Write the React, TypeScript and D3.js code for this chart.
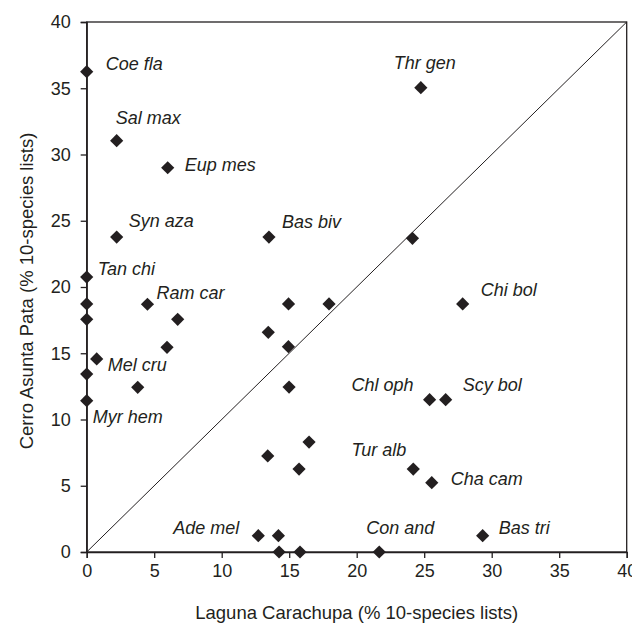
import * as d3 from "d3";
import React, { useEffect, useRef } from "react";

// % of 10-species lists at each site
const laguna = [
  0, 2.22, 6.0, 2.22, 13.5, 0, 0, 4.5, 14.95, 17.95, 24.75, 24.13, 27.85, 0,
  6.74, 13.45, 5.95, 14.94, 0.74, 0, 3.78, 14.99, 0, 25.4, 26.59, 16.47, 13.41,
  15.73, 24.19, 25.56, 12.71, 14.2, 14.25, 15.8, 21.67, 29.33,
];
const cerro = [
  36.25, 31.04, 29.0, 23.77, 23.77, 20.75, 18.72, 18.7, 18.72, 18.72, 35.04,
  23.67, 18.72, 17.56, 17.56, 16.58, 15.45, 15.5, 14.57, 13.43, 12.43, 12.45,
  11.42, 11.5, 11.5, 8.3, 7.25, 6.26, 6.26, 5.23, 1.23, 1.23, 0, 0, 0, 1.23,
];
const species = [
  "Coe fla", "Sal max", "Eup mes", "Syn aza", "Bas biv", "Tan chi", "", "Ram car",
  "", "", "Thr gen", "", "Chi bol", "", "", "", "", "", "Mel cru", "", "", "",
  "Myr hem", "Chl oph", "Scy bol", "", "", "", "Tur alb", "Cha cam", "Ade mel",
  "", "", "", "Con and", "Bas tri",
];
const ticks = [0, 5, 10, 15, 20, 25, 30, 35, 40];

// label placement relative to the marker (layout only)
const labelPos = {
  "Coe fla": [19, -2, "start"],
  "Sal max": [-1, -17, "start"],
  "Eup mes": [17, 3, "start"],
  "Syn aza": [12, -10, "start"],
  "Bas biv": [13, -9, "start"],
  "Tan chi": [11, -2, "start"],
  "Ram car": [9, -5, "start"],
  "Thr gen": [4, -19, "middle"],
  "Chi bol": [18, -8, "start"],
  "Mel cru": [11, 12, "start"],
  "Myr hem": [6, 22, "start"],
  "Chl oph": [-16, -9, "end"],
  "Scy bol": [17, -9, "start"],
  "Tur alb": [-7, -13, "end"],
  "Cha cam": [19, 2, "start"],
  "Ade mel": [-19, -2, "end"],
  "Con and": [21, -18, "middle"],
  "Bas tri": [16, -2, "start"],
};

function App() {
  const ref = useRef(null);

  useEffect(() => {
    const svg = d3.select(ref.current);
    svg.selectAll("*").remove();

    const left = 86.7,
      right = 626.7,
      top = 22,
      bottom = 552;
    const ink = "#231f20";
    const font = "'Liberation Sans', Arial, Helvetica, sans-serif";

    const x = d3.scaleLinear().domain([0, 40]).range([left, right]);
    const y = d3.scaleLinear().domain([0, 40]).range([bottom, top]);

    // frame
    svg
      .append("rect")
      .attr("x", left)
      .attr("y", top)
      .attr("width", right - left)
      .attr("height", bottom - top)
      .attr("fill", "none")
      .attr("stroke", ink)
      .attr("stroke-width", 1.3);

    // 1:1 line
    svg
      .append("line")
      .attr("x1", x(0))
      .attr("y1", y(0))
      .attr("x2", x(40))
      .attr("y2", y(40))
      .attr("stroke", ink)
      .attr("stroke-width", 1);

    const xAxis = svg
      .append("g")
      .attr("transform", "translate(0," + bottom + ")")
      .call(d3.axisBottom(x).tickValues(ticks).tickSize(6).tickPadding(6).tickFormat(d3.format("d")));
    const yAxis = svg
      .append("g")
      .attr("transform", "translate(" + left + ",0)")
      .call(d3.axisLeft(y).tickValues(ticks).tickSize(6).tickPadding(10).tickFormat(d3.format("d")));

    [xAxis, yAxis].forEach((g) => {
      g.select(".domain").attr("stroke", ink).attr("stroke-width", 1.3);
      g.selectAll(".tick line").attr("stroke", ink).attr("stroke-width", 1.3);
      g.selectAll(".tick text")
        .attr("fill", ink)
        .style("font-family", font)
        .style("font-size", "18px");
    });

    // markers
    const diamond = "M0,-6.6L6.6,0L0,6.6L-6.6,0Z";
    svg
      .append("g")
      .selectAll("path")
      .data(laguna.map((d, i) => ({ x: d, y: cerro[i], name: species[i] })))
      .enter()
      .append("path")
      .attr("d", diamond)
      .attr("transform", (d) => "translate(" + x(d.x) + "," + y(d.y) + ")")
      .attr("fill", ink);

    // species labels
    svg
      .append("g")
      .selectAll("text")
      .data(
        laguna
          .map((d, i) => ({ x: d, y: cerro[i], name: species[i] }))
          .filter((d) => d.name !== "")
      )
      .enter()
      .append("text")
      .attr("x", (d) => x(d.x) + labelPos[d.name][0])
      .attr("y", (d) => y(d.y) + labelPos[d.name][1])
      .attr("text-anchor", (d) => labelPos[d.name][2])
      .style("font-family", font)
      .style("font-size", "18px")
      .style("font-style", "italic")
      .attr("fill", ink)
      .text((d) => d.name);

    // axis titles
    svg
      .append("text")
      .attr("x", (left + right) / 2)
      .attr("y", 619)
      .attr("text-anchor", "middle")
      .style("font-family", font)
      .style("font-size", "18.5px")
      .attr("fill", ink)
      .text("Laguna Carachupa (% 10-species lists)");

    svg
      .append("text")
      .attr("transform", "translate(33," + 291 + ") rotate(-90)")
      .attr("text-anchor", "middle")
      .style("font-family", font)
      .style("font-size", "18.5px")
      .attr("fill", ink)
      .text("Cerro Asunta Pata (% 10-species lists)");
  }, []);

  return (
    <svg
      ref={ref}
      width={632}
      height={623}
      style={{ position: "absolute", left: 0, top: 0, background: "#fff" }}
    />
  );
}

export default App;
